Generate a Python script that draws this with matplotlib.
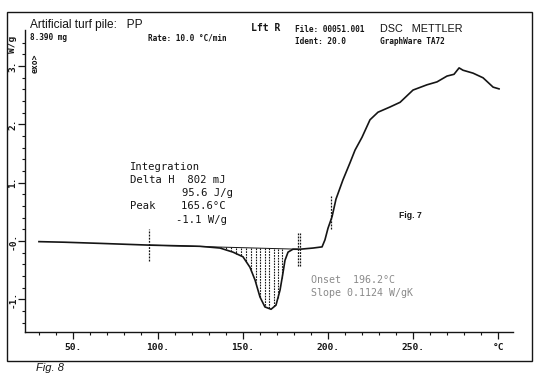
"""DSC thermogram of artificial turf pile (PP), redrawn from a scanned Mettler plot."""
import matplotlib
matplotlib.use("Agg")
import matplotlib.pyplot as plt
import numpy as np

# curve: temperature (degC) and heat flow (W/g)
temp_c = [30, 45, 66, 95, 124.7, 136.5, 144.1, 150.0, 154.1, 157.1, 160.0,
          162.9, 166.5, 169.4, 171.8, 173.5, 174.7, 176.5, 179.4, 183.5,
          191.2, 196.5, 198.2, 200.0, 202.4, 204.7, 208.8, 212.9, 215.9,
          220.0, 224.7, 229.4, 236.5, 242.4, 250.0, 258.2, 264.1, 270.0,
          274.1, 277.1, 279.4, 285.3, 291.2, 297.1, 300.6]
heat_flow = [-0.01, -0.02, -0.04, -0.07, -0.09, -0.12, -0.19, -0.27, -0.45,
             -0.67, -0.96, -1.13, -1.17, -1.10, -0.84, -0.55, -0.33, -0.19,
             -0.14, -0.14, -0.12, -0.10, 0.02, 0.22, 0.42, 0.72, 1.05, 1.34,
             1.56, 1.78, 2.08, 2.21, 2.30, 2.38, 2.59, 2.68, 2.73, 2.83, 2.86,
             2.97, 2.93, 2.88, 2.80, 2.64, 2.61]

# integration limits and hatch positions
integ_limits = [95, 182.5]
hatch_temps = [137, 140, 143, 146, 149, 152, 155, 157.5, 160, 163, 165.5,
               168, 170.5, 173]
onset_temp = 201.5

x_ticks = [50, 100, 150, 200, 250, 300]
x_labels = ["50.", "100.", "150.", "200.", "250.", "°C"]
y_ticks = [-1, 0, 1, 2, 3]
y_labels = ["-1.", "-0.", "1.", "2.", "3."]

INK = "#151515"
MONO = "DejaVu Sans Mono"
SANS = "Liberation Sans"
DOTTED = (0, (1.5, 1))

fig = plt.figure(figsize=(5.4, 3.76), dpi=100, facecolor="white")
ax = fig.add_axes([25 / 540, 1 - 332 / 376, 488 / 540, 302 / 376])
ax.set_xlim(21.8, 308.8)
ax.set_ylim(-1.56, 3.62)

t = np.array(temp_c)
w = np.array(heat_flow)
ax.plot(t, w, color=INK, linewidth=1.2, solid_joinstyle="round")

# integration baseline and hatching
bl_y = np.interp(integ_limits, t, w)
ax.plot(integ_limits, bl_y, color=INK, linewidth=0.7)
for ht in hatch_temps:
    top = np.interp(ht, integ_limits, bl_y)
    bot = np.interp(ht, t, w)
    ax.plot([ht, ht], [top, bot], color=INK, linewidth=0.8, linestyle=DOTTED)

# limit markers (the right one is doubled on the scan)
for lim, offsets in zip(integ_limits, [[0], [0, 1.0]]):
    y0 = np.interp(lim, t, w)
    for off in offsets:
        ax.plot([lim + off, lim + off], [y0 - 0.28, y0 + 0.28], color=INK,
                linewidth=0.9, linestyle=DOTTED)
ax.plot([onset_temp, onset_temp], [0.2, 0.78], color=INK, linewidth=0.9,
        linestyle=DOTTED)

# axes styling
for side in ["top", "right"]:
    ax.spines[side].set_visible(False)
for side in ["left", "bottom"]:
    ax.spines[side].set_color(INK)
    ax.spines[side].set_linewidth(1.0)
ax.set_xticks(x_ticks)
ax.set_xticklabels(x_labels, fontfamily=MONO, fontsize=6.8, fontweight="bold")
ax.set_xticks(np.arange(30, 310, 10), minor=True)
ax.set_yticks(y_ticks)
ax.set_yticklabels([])
ax.set_yticks(np.arange(-1.4, 3.6, 0.2), minor=True)
ax.tick_params(which="major", length=5, width=0.9, color=INK, pad=3,
               labelcolor=INK)
ax.tick_params(which="minor", length=2.5, width=0.8, color=INK)
for val, lab in zip(y_ticks, y_labels):
    ax.text(-0.016, val, lab, transform=ax.get_yaxis_transform(),
            rotation=90, ha="right", va="center", fontfamily=MONO,
            fontsize=6.8, fontweight="bold", color=INK)
ax.text(-0.016, 3.22, "W/g", transform=ax.get_yaxis_transform(),
        rotation=90, ha="right", va="bottom", fontfamily=MONO,
        fontsize=6.8, fontweight="bold", color=INK)
ax.text(0.012, 3.05, "exo>", transform=ax.get_yaxis_transform(),
        rotation=90, ha="left", va="center", fontfamily=MONO,
        fontsize=5.8, fontweight="bold", color=INK)

# outer frame
frame = plt.Rectangle((7 / 540, 1 - 361 / 376), 525 / 540, 349 / 376,
                      transform=fig.transFigure, fill=False,
                      edgecolor=INK, linewidth=1.0)
fig.add_artist(frame)


def ftext(x, y, s, color=INK, **kw):
    fig.text(x / 540, 1 - y / 376, s, va="center", ha="left", color=color,
             **kw)


# header
ftext(30, 25, "Artificial turf pile:   PP", fontfamily=SANS, fontsize=8.6)
ftext(30, 38, "8.390 mg", fontfamily=MONO, fontsize=5.6, fontweight="bold")
ftext(148, 38, "Rate: 10.0 °C/min", fontfamily=MONO, fontsize=5.6,
      fontweight="bold")
ftext(251, 28, "Lft R", fontfamily=MONO, fontsize=7, fontweight="bold")
ftext(295, 29, "File: 00051.001", fontfamily=MONO, fontsize=5.6,
      fontweight="bold")
ftext(295, 42, "Ident: 20.0", fontfamily=MONO, fontsize=5.6, fontweight="bold")
ftext(380, 29, "DSC   METTLER", fontfamily=SANS, fontsize=7.8)
ftext(380, 42, "GraphWare TA72", fontfamily=MONO, fontsize=5.6,
      fontweight="bold")

# integration block
ftext(130, 167, "Integration", fontfamily=MONO, fontsize=7.6)
ftext(130, 180, "Delta H  802 mJ", fontfamily=MONO, fontsize=7.6)
ftext(182, 193, "95.6 J/g", fontfamily=MONO, fontsize=7.6)
ftext(130, 206, "Peak    165.6°C", fontfamily=MONO, fontsize=7.6)
ftext(176, 220, "-1.1 W/g", fontfamily=MONO, fontsize=7.6)

ftext(399, 215, "Fig. 7", fontfamily=SANS, fontsize=6.2, fontweight="bold")
ftext(311, 280, "Onset  196.2°C", color="#8a8a8a", fontfamily=MONO,
      fontsize=7.2)
ftext(311, 293, "Slope 0.1124 W/gK", color="#8a8a8a", fontfamily=MONO,
      fontsize=7.2)

# handwritten note at the bottom
ftext(36, 368, "Fig. 8", fontfamily=SANS, fontsize=8, fontstyle="italic")

fig.savefig("out.png", dpi=100, facecolor="white")
